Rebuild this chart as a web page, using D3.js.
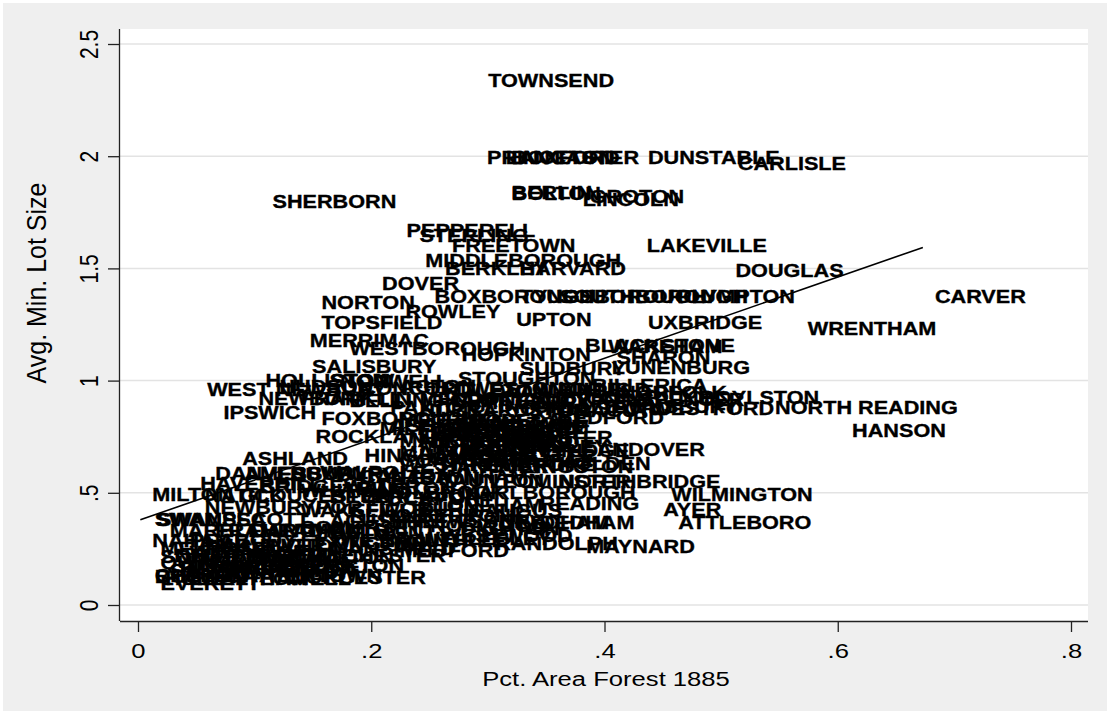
<!DOCTYPE html>
<html>
<head>
<meta charset="utf-8">
<script src="https://cdn.jsdelivr.net/npm/d3@7"></script>
<style>
  body { margin: 0; background: #fff; }
  text { font-family: "Liberation Sans", Arial, sans-serif; }
</style>
</head>
<body>
<svg id="chart" width="1107" height="711"></svg>
<script>
'use strict';

// town labels (many overlap in the dense lower-left cluster)
var towns = [
    "TOWNSEND", "PRINCETON", "BOXFORD", "LANCASTER", "DUNSTABLE", "CARLISLE", "BERLIN", "BOLTON",
    "GROTON", "LINCOLN", "SHERBORN", "PEPPERELL", "STERLING", "FREETOWN", "LAKEVILLE", "MIDDLEBOROUGH",
    "BERKLEY", "HARVARD", "DOUGLAS", "DOVER", "BOXBOROUGH", "TYNGSBOROUGH", "SOUTHBOROUGH", "PLYMPTON",
    "NORTON", "ROWLEY", "TOPSFIELD", "UPTON", "UXBRIDGE", "CARVER", "WRENTHAM", "MERRIMAC",
    "WESTBOROUGH", "HOPKINTON", "BLACKSTONE", "WAREHAM", "SHARON", "LUNENBURG", "SUDBURY", "SALISBURY",
    "HOLLISTON", "STOW", "NORWELL", "STOUGHTON", "BILLERICA", "WEST NEWBURY", "NEWBURY", "IPSWICH",
    "FOXBOROUGH", "BEDFORD", "WESTFORD", "NORTH READING", "BOYLSTON", "HANSON", "ROCKLAND", "WEBSTER",
    "ANDOVER", "HINGHAM", "ASHLAND", "HOLDEN", "LEOMINSTER", "NORTHBRIDGE", "MARLBOROUGH", "WILMINGTON",
    "READING", "AYER", "SHREWSBURY", "NEEDHAM", "DEDHAM", "ATTLEBORO", "RANDOLPH", "MAYNARD",
    "MANSFIELD", "DANVERS", "AMESBURY", "HAVERHILL", "MILTON", "NATICK", "NEWBURYPORT", "SWAMPSCOTT",
    "FRAMINGHAM", "NAHANT", "WORCESTER", "EVERETT", "CHELSEA", "CONCORD", "ACTON", "LITTLETON",
    "WESTON", "WAYLAND", "MEDFIELD", "MILLIS", "NORFOLK", "HUDSON", "FRANKLIN", "BELLINGHAM",
    "MENDON", "GRAFTON", "MILLBURY", "SUTTON", "OXFORD", "CHARLTON", "SPENCER", "PAXTON",
    "HUBBARDSTON", "CLINTON", "CHELMSFORD", "DRACUT", "TEWKSBURY", "METHUEN", "GEORGETOWN", "GROVELAND",
    "HAMILTON", "WENHAM", "ESSEX", "MILFORD", "PLAINVILLE", "MANCHESTER", "MIDDLETON", "LYNNFIELD",
    "AUBURN", "DUDLEY", "SOUTHBRIDGE", "COHASSET", "SCITUATE", "HANOVER", "PEMBROKE", "HALIFAX",
    "KINGSTON", "DUXBURY", "WALPOLE", "CANTON", "EASTON", "RAYNHAM", "TAUNTON", "BRIDGEWATER",
    "WHITMAN", "ABINGTON", "HOLBROOK", "AVON", "GLOUCESTER", "BEVERLY", "ROCKPORT", "WOBURN",
    "WAKEFIELD", "STONEHAM", "SAUGUS", "SOMERSET", "NORWOOD", "BELMONT", "MELROSE", "WINTHROP",
    "ARLINGTON", "LEXINGTON", "BURLINGTON", "WINCHESTER", "WEYMOUTH", "BRAINTREE", "MEDFORD", "WELLESLEY",
    "WESTWOOD", "QUINCY", "REVERE", "MALDEN", "LYNN", "SALEM", "BROOKLINE", "NEWTON",
    "WALTHAM", "CAMBRIDGE", "SOMERVILLE", "BOSTON", "WATERTOWN", "LAWRENCE", "LOWELL", "BROCKTON",
    "SWANSEA", "DARTMOUTH", "ACUSHNET", "SEEKONK", "REHOBOTH", "DIGHTON", "ASHBY", "RUTLAND",
    "HOPEDALE", "SHIRLEY", "BROOKFIELD", "LEICESTER", "MARION", "MATTAPOISETT", "ROCHESTER", "WESTPORT",
    "NEW BEDFORD", "FALL RIVER", "HULL", "PEABODY", "MARBLEHEAD", "FITCHBURG"
];

// Pct. Area Forest 1885
var forest = [
    .290, .289, .310, .305, .427, .504, .310, .310,
    .377, .371, .105, .220, .231, .259, .426, .236,
    .253, .317, .502, .199, .244, .317, .351, .452,
    .147, .219, .147, .314, .427, .673, .564, .137,
    .171, .267, .373, .393, .400, .396, .317, .139,
    .099, .154, .163, .264, .379, .049, .093, .063,
    .147, .349, .429, .536, .471, .602, .142, .304,
    .383, .184, .079, .351, .291, .351, .266, .447,
    .334, .440, .204, .300, .334, .453, .296, .374,
    .154, .056, .081, .043, .002, .047, .047, .004,
    .056, .002, .116, .009, .004, .180, .214, .240,
    .274, .300, .334, .351, .403, .111, .129, .171,
    .231, .257, .283, .326, .351, .386, .420, .206,
    .231, .274, .317, .351, .386, .214, .231, .249,
    .266, .291, .240, .197, .266, .214, .231, .266,
    .274, .317, .274, .214, .240, .249, .274, .300,
    .317, .120, .146, .180, .206, .231, .249, .094,
    .129, .163, .197, .231, .077, .154, .189, .197,
    .129, .231, .274, .129, .240, .154, .009, .034,
    .060, .129, .086, .129, .163, .197, .214, .231,
    .249, .009, .026, .043, .051, .017, .069, .094,
    .043, .026, .009, .004, .077, .069, .094, .111,
    .006, .086, .154, .231, .171, .266, .206, .249,
    .274, .283, .240, .231, .249, .214, .266, .214,
    .021, .043, .013, .034, .017, .060
];

// Avg. Min. Lot Size
var lotSize = [
    2.339, 1.996, 1.996, 1.996, 1.996, 1.970, 1.840, 1.836,
    1.823, 1.809, 1.800, 1.671, 1.649, 1.604, 1.604, 1.537,
    1.502, 1.502, 1.493, 1.435, 1.377, 1.377, 1.377, 1.377,
    1.350, 1.310, 1.261, 1.274, 1.261, 1.377, 1.234, 1.181,
    1.145, 1.119, 1.159, 1.154, 1.105, 1.061, 1.056, 1.065,
    1.003, 1.003, 0.998, 1.012, 0.980, 0.963, 0.922, 0.860,
    0.833, 0.838, 0.878, 0.882, 0.927, 0.780, 0.753, 0.749,
    0.695, 0.668, 0.655, 0.633, 0.553, 0.553, 0.504, 0.495,
    0.455, 0.428, 0.374, 0.370, 0.370, 0.370, 0.276, 0.263,
    0.254, 0.588, 0.588, 0.544, 0.495, 0.490, 0.437, 0.383,
    0.334, 0.290, 0.125, 0.098, 0.134, 0.967, 0.976, 0.958,
    0.967, 0.954, 0.963, 0.963, 0.949, 0.976, 0.922, 0.914,
    0.922, 0.914, 0.905, 0.922, 0.914, 0.927, 0.918, 0.882,
    0.869, 0.887, 0.878, 0.869, 0.887, 0.824, 0.802, 0.789,
    0.811, 0.798, 0.771, 0.789, 0.771, 0.735, 0.713, 0.726,
    0.744, 0.709, 0.691, 0.646, 0.655, 0.619, 0.628, 0.646,
    0.619, 0.584, 0.593, 0.575, 0.566, 0.575, 0.557, 0.530,
    0.512, 0.521, 0.504, 0.490, 0.490, 0.486, 0.477, 0.432,
    0.423, 0.446, 0.423, 0.348, 0.356, 0.325, 0.254, 0.236,
    0.267, 0.276, 0.214, 0.223, 0.290, 0.290, 0.245, 0.299,
    0.312, 0.192, 0.165, 0.201, 0.147, 0.156, 0.174, 0.156,
    0.120, 0.174, 0.218, 0.128, 0.134, 0.201, 0.120, 0.178,
    0.383, 0.334, 0.379, 0.401, 0.401, 0.343, 0.802, 0.758,
    0.824, 0.780, 0.735, 0.771, 0.691, 0.682, 0.668, 0.628,
    0.223, 0.267, 0.120, 0.290, 0.334, 0.160
];

var xTicks = [0, .2, .4, .6, .8],
    xTickLabels = ["0", ".2", ".4", ".6", ".8"];
var yTicks = [0, .5, 1, 1.5, 2, 2.5],
    yTickLabels = ["0", ".5", "1", "1.5", "2", "2.5"];

// linear fit drawn over the range of forest
var fitIntercept = 0.376,
    fitSlope     = 1.809;

var svg  = d3.select("#chart"),
    plot = {left: 120, right: 1088, top: 29, bottom: 621};

var x = d3.scaleLinear().domain([0, 0.8]).range([138, 1071]),
    y = d3.scaleLinear().domain([0, 2.5]).range([605, 44]);

// graph region + plot region
svg.append("rect").attr("width", 1107).attr("height", 711).attr("fill", "#fff");
svg.append("rect").attr("x", 3).attr("y", 3).attr("width", 1104).attr("height", 708).attr("fill", "#efefef");
svg.append("rect")
    .attr("x", plot.left).attr("y", plot.top)
    .attr("width", plot.right - plot.left).attr("height", plot.bottom - plot.top)
    .attr("fill", "#fff");

// gridlines
svg.append("g").selectAll("line").data(yTicks).enter().append("line")
    .attr("x1", plot.left).attr("x2", plot.right)
    .attr("y1", function(d){return y(d)}).attr("y2", function(d){return y(d)})
    .attr("stroke", "#e3e3e3").attr("stroke-width", 1.5);

// axes
var xAxis = svg.append("g").attr("transform", "translate(0," + plot.bottom + ")")
    .call(d3.axisBottom(x).tickValues(xTicks).tickSize(11).tickSizeOuter(0)
        .tickFormat(function(d, i){return xTickLabels[i]}));
var yAxis = svg.append("g").attr("transform", "translate(" + (plot.left - 1) + ",0)")
    .call(d3.axisLeft(y).tickValues(yTicks).tickSize(11).tickSizeOuter(0)
        .tickFormat(function(d, i){return yTickLabels[i]}));

[xAxis, yAxis].forEach(function(ax){
    ax.select(".domain").remove();
    ax.selectAll(".tick line").attr("stroke", "#222").attr("stroke-width", 1.3);
    ax.selectAll(".tick text").attr("fill", "#000").attr("font-size", 21)
        .attr("font-family", "Liberation Sans, Arial, sans-serif");
});
xAxis.selectAll(".tick text").attr("y", 37).attr("dy", 0)
    .attr("transform", "scale(1.22,1)");
yAxis.selectAll(".tick text").attr("x", 0).attr("y", -17).attr("dy", 0)
    .attr("text-anchor", "middle")
    .attr("transform", "scale(1.22,1) rotate(-90)");

svg.append("line")
    .attr("x1", plot.left).attr("x2", plot.right)
    .attr("y1", plot.bottom + 0.5).attr("y2", plot.bottom + 0.5)
    .attr("stroke", "#222").attr("stroke-width", 1.3);
svg.append("line")
    .attr("x1", plot.left - 0.5).attr("x2", plot.left - 0.5)
    .attr("y1", plot.top).attr("y2", plot.bottom)
    .attr("stroke", "#222").attr("stroke-width", 1.3);

// axis titles
svg.append("text")
    .attr("transform", "translate(606,686) scale(1.22,1)")
    .attr("text-anchor", "middle").attr("font-size", 21).attr("fill", "#000")
    .text("Pct. Area Forest 1885");
svg.append("text")
    .attr("transform", "translate(46,283) scale(1.12,1) rotate(-90)")
    .attr("text-anchor", "middle").attr("font-size", 25).attr("fill", "#000")
    .text("Avg. Min. Lot Size");

// fitted line
var xr = d3.extent(forest);
svg.append("line")
    .attr("x1", x(xr[0])).attr("y1", y(fitIntercept + fitSlope * xr[0]))
    .attr("x2", x(xr[1])).attr("y2", y(fitIntercept + fitSlope * xr[1]))
    .attr("stroke", "#000").attr("stroke-width", 1.6);

// labels at 3 o'clock of (invisible) markers
var labelGap = 12;
svg.append("g").selectAll("text").data(towns).enter().append("text")
    .attr("transform", function(d, i){
        return "translate(" + (x(forest[i]) + labelGap) + "," + y(lotSize[i]) + ") scale(1.17,1)";
    })
    .attr("dy", "0.36em")
    .attr("font-size", 18.5).attr("font-weight", "bold").attr("fill", "#000")
    .attr("stroke", "#000").attr("stroke-width", 0.35)
    .text(function(d){return d});
</script>
</body>
</html>
